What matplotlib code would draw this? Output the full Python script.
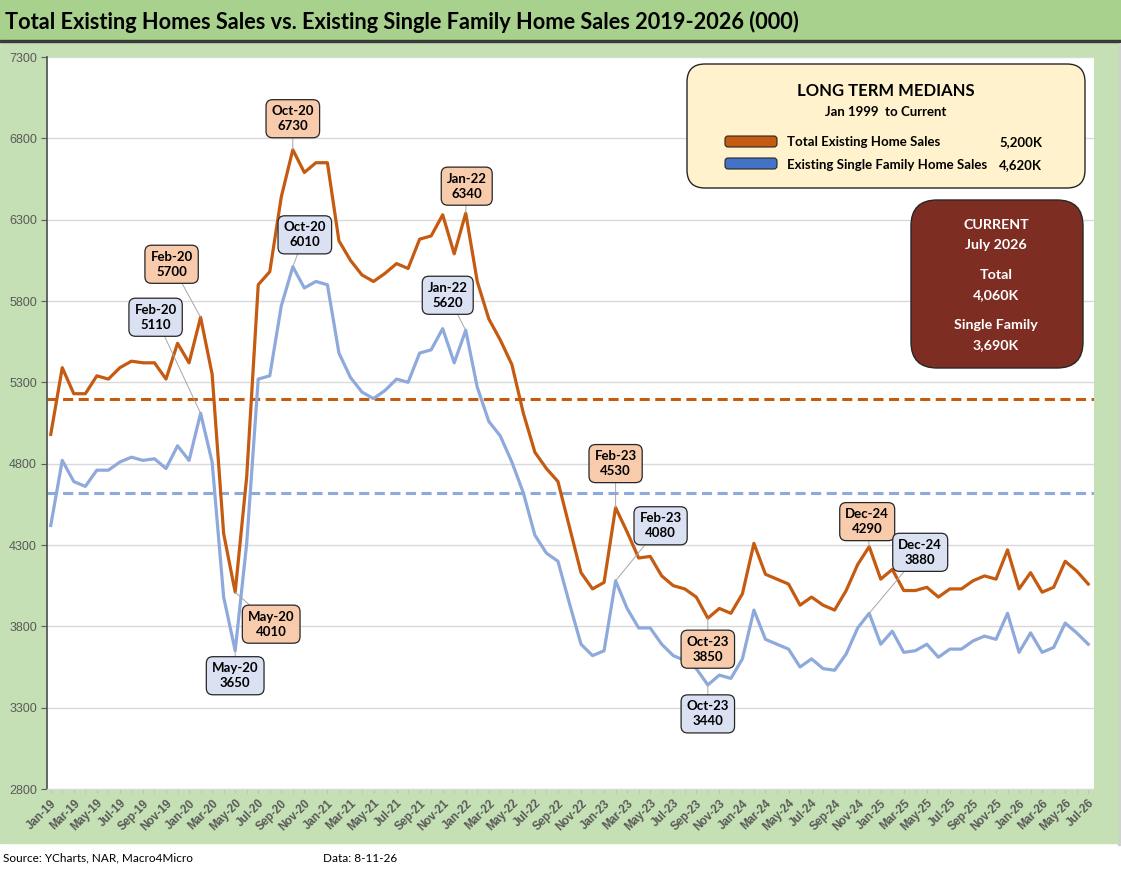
import numpy as np
import pandas as pd
import matplotlib
matplotlib.use("Agg")
import matplotlib.pyplot as plt
from matplotlib.patches import FancyBboxPatch, Rectangle

# monthly sales, thousands (Jan-19 .. Jul-26)
total = [4980, 5390, 5230, 5230, 5340, 5320, 5390, 5430, 5420, 5420, 5320, 5540,
         5420, 5700, 5350, 4370, 4010, 4720, 5900, 5980, 6440, 6730, 6590, 6650,
         6650, 6170, 6050, 5960, 5920, 5970, 6030, 6000, 6180, 6200, 6330, 6090,
         6340, 5920, 5690, 5560, 5410, 5110, 4870, 4770, 4690, 4410, 4130, 4030,
         4070, 4530, 4380, 4220, 4230, 4110, 4050, 4030, 3980, 3850, 3910, 3880,
         4000, 4310, 4120, 4090, 4060, 3930, 3980, 3930, 3900, 4020, 4180, 4290,
         4090, 4150, 4020, 4020, 4040, 3980, 4030, 4030, 4080, 4110, 4090, 4270,
         4030, 4130, 4010, 4040, 4200, 4140, 4060]
single = [4420, 4820, 4690, 4660, 4760, 4760, 4810, 4840, 4820, 4830, 4770, 4910,
          4820, 5110, 4810, 3980, 3650, 4310, 5320, 5340, 5770, 6010, 5880, 5920,
          5900, 5480, 5330, 5240, 5200, 5250, 5320, 5300, 5480, 5500, 5630, 5420,
          5620, 5270, 5060, 4970, 4810, 4620, 4360, 4250, 4200, 3940, 3690, 3620,
          3650, 4080, 3910, 3790, 3790, 3690, 3620, 3590, 3540, 3440, 3500, 3480,
          3600, 3900, 3720, 3690, 3660, 3550, 3600, 3540, 3530, 3630, 3790, 3880,
          3690, 3770, 3640, 3650, 3690, 3610, 3660, 3660, 3710, 3740, 3720, 3880,
          3640, 3760, 3640, 3670, 3820, 3760, 3690]
months = pd.date_range("2019-01-01", periods=len(total), freq="MS").strftime("%b-%y").tolist()
median_total = 5200
median_single = 4620
yticks = list(range(2800, 7301, 500))

# callouts: month -> label offset in pixels (dx, dy up)
total_callouts = {"Feb-20": (-29, 53), "May-20": (36, -32), "Oct-20": (0, 31),
                  "Jan-22": (1, 27), "Feb-23": (0, 44), "Oct-23": (0, -31), "Dec-24": (-2, 25)}
single_callouts = {"Feb-20": (-45, 96), "May-20": (0, -25), "Oct-20": (12, 32),
                   "Jan-22": (-18, 35), "Feb-23": (45, 55), "Oct-23": (0, -29), "Dec-24": (51, 61)}

ORANGE, BLUE = "#C55A11", "#8EA9DB"
W, H = 1121, 873
FONT = ["Lato", "DejaVu Sans"]

fig = plt.figure(figsize=(W / 100, H / 100), dpi=100)
IN = fig.dpi_scale_trans


def rect(x0, y0, x1, y1, z=-2, **kw):
    # pixel coords, origin top-left
    fig.patches.append(Rectangle((x0 / 100, (H - y1) / 100), (x1 - x0) / 100, (y1 - y0) / 100,
                                 transform=IN, zorder=z, **kw))


def rbox(x0, y0, x1, y1, r, **kw):
    fig.patches.append(FancyBboxPatch((x0 / 100, (H - y1) / 100), (x1 - x0) / 100, (y1 - y0) / 100,
                                      boxstyle=f"round,pad=0,rounding_size={r / 100}",
                                      transform=IN, zorder=5, **kw))


def ftext(x, y, s, **kw):
    kw.setdefault("family", FONT)
    return fig.text(x / 100, (H - y) / 100, s, transform=IN, zorder=6, **kw)


# backgrounds
rect(0, 0, W, 41, color="#A9D18E")
rect(0, 40.5, W, 42, z=-1, color="#3A3A3A")
rect(0, 42, 1118, 843, color="#C5E0B4")
rect(1118, 44, 1120, 845, z=-3, color="#D0D0D0")

title = ftext(5, 22, "Total Existing Homes Sales vs. Existing Single Family Home Sales 2019-2026 (000)",
              fontsize=17, fontweight="bold", va="center", ha="left")
# squeeze the title to the reference width (Calibri is narrower than what we have)
fig.canvas.draw()
tw = title.get_window_extent().width
title.set_fontsize(17 * 795 / tw)

ftext(3, 858, "Source: YCharts, NAR, Macro4Micro", fontsize=8.5, va="center")
ftext(323, 858, "Data: 8-11-26", fontsize=8.5, va="center")

ax = fig.add_axes([46.7 / W, (H - 789) / H, (1094 - 46.7) / W, (789 - 57) / H])
ax.set_facecolor("white")
x = np.arange(len(months))
ax.plot(x, total, color=ORANGE, lw=2.3, zorder=3)
ax.plot(x, single, color=BLUE, lw=2.3, zorder=3)
ax.axhline(median_total, color=ORANGE, lw=2.2, ls=(0, (3.3, 1.8)), zorder=2)
ax.axhline(median_single, color=BLUE, lw=2.2, ls=(0, (3.3, 1.8)), zorder=2)

ax.set_xlim(-0.35, len(months) - 0.5)
ax.set_ylim(2800, 7300)
ax.set_yticks(yticks)
ax.set_yticklabels([str(t) for t in yticks], color="#595959", fontsize=9,
                   family=["Liberation Sans", "DejaVu Sans"])
ax.set_xticks(x[::2])
ax.set_xticklabels(months[::2], rotation=45, ha="right", rotation_mode="anchor",
                   color="#595959", fontsize=8.3, fontweight="bold",
                   family=["Liberation Sans", "DejaVu Sans"])
ax.set_xticks(x, minor=True)
ax.tick_params(axis="x", which="both", length=3, color="#BFBFBF", pad=3)
ax.tick_params(axis="y", length=4, color="#595959", pad=3)
ax.grid(axis="y", color="#D9D9D9", lw=1)
ax.set_axisbelow(True)
for s in ("top", "right"):
    ax.spines[s].set_visible(False)
ax.spines["left"].set_color("#595959")
ax.spines["left"].set_linewidth(1.3)
ax.spines["bottom"].set_color("#D9D9D9")


def callout(series, month, off, fc):
    i = months.index(month)
    ax.annotate(f"{month}\n{series[i]}", (i, series[i]), xytext=off, textcoords="offset pixels",
                ha="center", va="center", fontsize=9.5, fontweight="bold", family=FONT,
                linespacing=1.3, zorder=5,
                bbox=dict(boxstyle="round,pad=0.42,rounding_size=0.5", fc=fc, ec="#262626", lw=0.9),
                arrowprops=dict(arrowstyle="-", color="#A6A6A6", lw=0.7, shrinkA=0, shrinkB=0))


for m, off in total_callouts.items():
    callout(total, m, off, "#F8CBAD")
for m, off in single_callouts.items():
    callout(single, m, off, "#D9E1F2")

# long-term medians panel
rbox(687, 64, 1085, 188, 18, fc="#FFF2CC", ec="#262626", lw=1)
ftext(886, 91, "LONG TERM MEDIANS", fontsize=12, fontweight="bold", ha="center", va="center")
ftext(886, 112, "Jan 1999  to Current", fontsize=9.5, fontweight="bold", ha="center", va="center")
rbox(725, 136, 777, 147, 3, fc=ORANGE, ec="#262626", lw=0.8)
rbox(725, 158, 777, 169, 3, fc="#4472C4", ec="#262626", lw=0.8)
ftext(787, 142, "Total Existing Home Sales", fontsize=9.5, fontweight="bold", va="center")
ftext(787, 165, "Existing Single Family Home Sales", fontsize=9.5, fontweight="bold", va="center")
ftext(1042, 142, f"{median_total:,}K", fontsize=9.5, fontweight="bold", va="center", ha="right")
ftext(1042, 165, f"{median_single:,}K", fontsize=9.5, fontweight="bold", va="center", ha="right")

# current panel
rbox(911, 200, 1083, 368, 26, fc="#7E2D23", ec="#262626", lw=1)
cur = [("CURRENT", 225), (months[-1].replace("Jul-", "July 20"), 245), ("Total", 275),
       (f"{total[-1]:,}K", 295), ("Single Family", 325), (f"{single[-1]:,}K", 345)]
for s, yy in cur:
    ftext(996, yy, s, fontsize=10.3, fontweight="bold", color="white", ha="center", va="center")

fig.savefig("out.png", dpi=100)
